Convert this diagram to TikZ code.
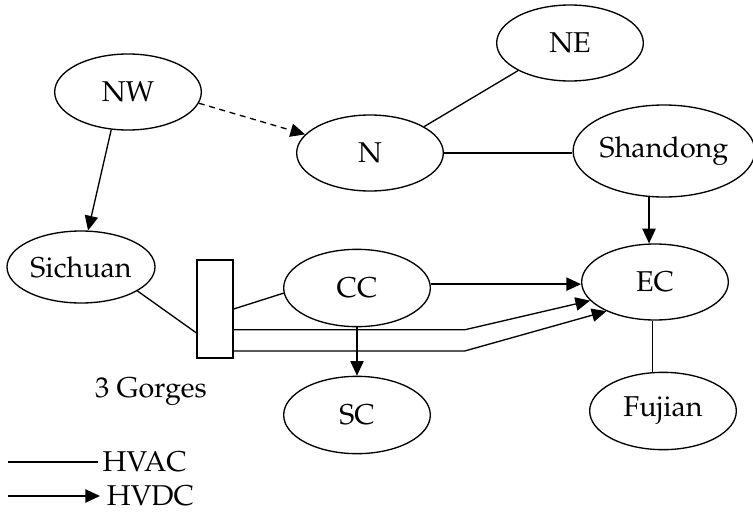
\documentclass[tikz,border=0pt]{standalone}
\usepackage[T1]{fontenc}
\usepackage{mathpazo}
\usetikzlibrary{arrows.meta, shapes.geometric}

\begin{document}
\begin{tikzpicture}[
    x=0.75pt, y=0.75pt,
    font=\fontsize{21.5}{25}\selectfont,
    region/.style={ellipse, draw, line width=1pt, inner sep=0pt,
                   minimum width=110pt, minimum height=57pt},
    ac/.style={line width=1pt},
    dc/.style={-{Triangle[length=11pt, width=10pt]}, line width=1pt},
]
\useasboundingbox (0,0) rectangle (753,512);

% --- regiones ---
\node[region] (NW) at (128,420) {NW};
\node[region] (N) at (370,359) {N};
\node[region] (NE) at (570,469) {NE};
\node[region, minimum width=134pt, minimum height=69pt] (SD) at (664,361) {Shandong};
\node[region, minimum width=111pt, minimum height=54pt] (SCH) at (81,245) {Sichuan};
\node[region, minimum height=58pt] (CC) at (357,224) {CC};
\node[region, minimum height=58pt] (SC) at (357,97) {SC};
\node[region] (EC) at (655,230) {EC};
\node[region, minimum height=58pt] (FJ) at (663,101) {Fujian};

% --- presa de las 3 Gargantas ---
\node[draw, line width=1pt, minimum width=27pt, minimum height=73.5pt, inner sep=0pt]
    (tg) at (215,203) {};
\node (gorges) at (151,120) {3 Gorges};
\coordinate (bend) at (465,0);

% --- enlaces ---
\draw[dc] (NW.246) -- (SCH.79);
\draw[dc, dash pattern=on 4.5pt off 3.5pt] (NW.-9) -- (N.164);
\draw[ac] (N.26) -- (NE.208);
\draw[ac] (N.east) -- (N.east -| SD.west);
\draw[dc] (SD.252) -- (SD.252 |- EC.north);
\draw[ac] (SCH.-23) -- (tg.232);
\draw[ac] (tg.east) -- (CC.184);
\draw[dc] (CC.3) -- (CC.3 -| EC.west);
\draw[dc] (tg.-48) -- (tg.-48 -| bend) -- (EC.196);
\draw[dc] (tg.-66) -- (tg.-66 -| bend) -- (EC.211);
\draw[dc] (CC.south) -- (SC.north);
\draw[ac] (EC.266) -- (EC.266 |- FJ.north);

% --- leyenda ---
\coordinate (acstart) at (8,50);
\coordinate (dcstart) at (8,16);
\node[anchor=west, inner ysep=1pt] (hvac) at (98,50) {HVAC};
\node[anchor=west, inner xsep=5pt, inner ysep=1pt] (hvdc) at (100,16) {HVDC};
\draw[ac] (acstart) -- (hvac.west);
\draw[dc] (dcstart) -- (hvdc.west);

\end{tikzpicture}
\end{document}
